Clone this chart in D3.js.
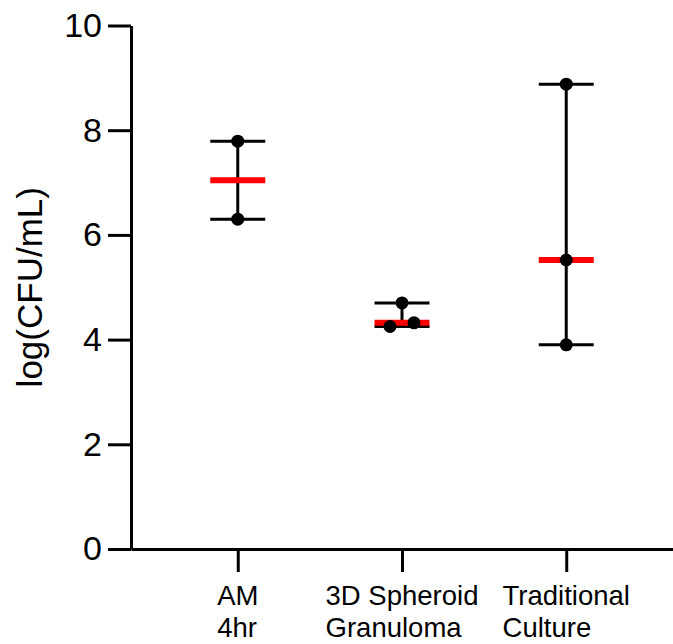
<!DOCTYPE html>
<html>
<head>
<meta charset="utf-8">
<script src="https://cdn.jsdelivr.net/npm/d3@7"></script>
<style>
  body { margin: 0; background: #fff; }
  svg { display: block; font-family: Arial, "Liberation Sans", sans-serif; }
</style>
</head>
<body>
<div id="chart"></div>
<script>
// data
const categories = ["AM 4hr", "3D Spheroid Granuloma", "Traditional Culture"];
const categoryLines = [["AM", "4hr"], ["3D Spheroid", "Granuloma"], ["Traditional", "Culture"]];
const amValues = [7.79, 6.30];
const spheroidValues = [4.70, 4.25, 4.32];
const traditionalValues = [8.88, 5.52, 3.90];
const yTicks = [0, 2, 4, 6, 8, 10];
const yTitle = "log(CFU/mL)";

const groups = [amValues, spheroidValues, traditionalValues].map((vals, i) => ({
  name: categories[i],
  values: vals,
  median: d3.median(vals),
  extent: d3.extent(vals)
}));

const width = 673, height = 644;
const margin = {top: 25.5, right: 0, bottom: 95, left: 131};

const svg = d3.select("#chart").append("svg")
  .attr("width", width)
  .attr("height", height);

const x = d3.scalePoint()
  .domain(categories)
  .range([margin.left, width - margin.right])
  .padding(0.65);

const y = d3.scaleLinear()
  .domain([0, 10])
  .range([height - margin.bottom, margin.top]);

const capW = 55, dotR = 6.5, jitterStep = 24;

// y axis
const yAxis = svg.append("g")
  .attr("transform", `translate(${margin.left},0)`)
  .call(d3.axisLeft(y).tickValues(yTicks).tickSize(23).tickSizeOuter(0).tickPadding(6));
yAxis.selectAll("path, line").attr("stroke", "#000").attr("stroke-width", 3);
yAxis.selectAll("text").attr("font-size", 34).attr("fill", "#000")
  .attr("font-family", "Arial, 'Liberation Sans', sans-serif");

// x axis
const xAxis = svg.append("g")
  .attr("transform", `translate(0,${height - margin.bottom})`)
  .call(d3.axisBottom(x).tickSize(23).tickSizeOuter(0).tickFormat(""));
xAxis.selectAll("path, line").attr("stroke", "#000").attr("stroke-width", 3);

// category labels, lines left aligned inside a block centred on the tick
categories.forEach((c, i) => {
  const t = svg.append("text")
    .attr("font-size", 27.5)
    .attr("fill", "#000");
  categoryLines[i].forEach((line, j) => {
    t.append("tspan")
      .attr("x", 0)
      .attr("y", height - margin.bottom + 56 + j * 32)
      .text(line);
  });
  const w = t.node().getBBox().width;
  t.selectAll("tspan").attr("x", x(c) - w / 2);
});

// y title
svg.append("text")
  .attr("transform", `translate(42,${(y(0) + y(10)) / 2}) rotate(-90)`)
  .attr("text-anchor", "middle")
  .attr("font-size", 35)
  .attr("fill", "#000")
  .text(yTitle);

// spread points that would overlap into centred rows
function swarm(vals) {
  const sorted = vals.map((v, i) => ({v, i})).sort((a, b) => a.v - b.v);
  const rows = [];
  sorted.forEach(p => {
    const last = rows[rows.length - 1];
    if (last && Math.abs(y(last[0].v) - y(p.v)) < dotR * 2) last.push(p);
    else rows.push([p]);
  });
  const out = [];
  rows.forEach(row => row.forEach((p, k) => {
    out.push({v: p.v, dx: (k - (row.length - 1) / 2) * jitterStep});
  }));
  return out;
}

const g = svg.selectAll(".group")
  .data(groups)
  .join("g")
  .attr("class", "group")
  .attr("transform", d => `translate(${x(d.name)},0)`);

// range bar
g.append("line")
  .attr("y1", d => y(d.extent[0]))
  .attr("y2", d => y(d.extent[1]))
  .attr("stroke", "#000").attr("stroke-width", 3);
g.selectAll(".cap")
  .data(d => d.extent)
  .join("line")
  .attr("class", "cap")
  .attr("x1", -capW / 2).attr("x2", capW / 2)
  .attr("y1", d => y(d)).attr("y2", d => y(d))
  .attr("stroke", "#000").attr("stroke-width", 3);

// median
g.append("line")
  .attr("x1", -capW / 2).attr("x2", capW / 2)
  .attr("y1", d => y(d.median)).attr("y2", d => y(d.median))
  .attr("stroke", "#ff0000").attr("stroke-width", 6);

// points
g.selectAll("circle")
  .data(d => swarm(d.values))
  .join("circle")
  .attr("cx", d => d.dx)
  .attr("cy", d => y(d.v))
  .attr("r", dotR)
  .attr("fill", "#000");
</script>
</body>
</html>
